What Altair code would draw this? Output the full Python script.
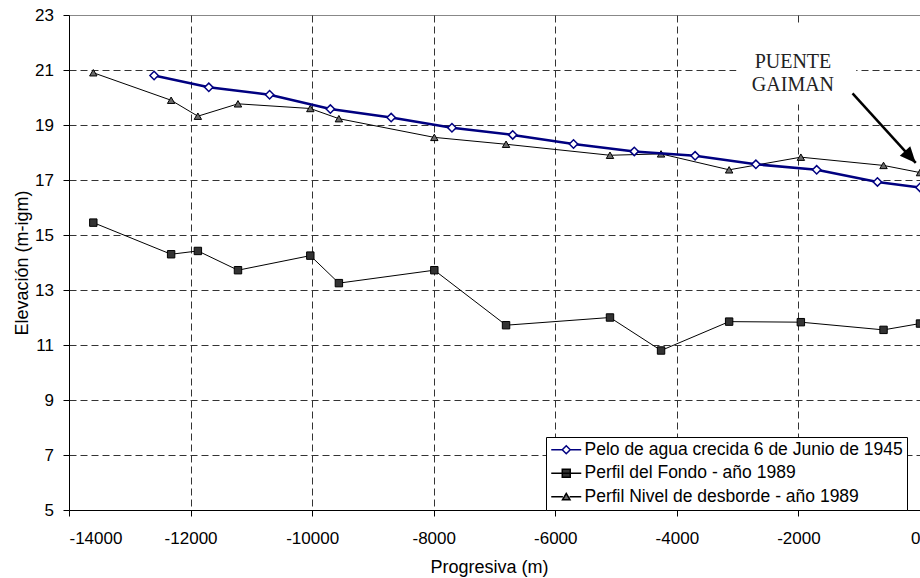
import altair as alt
import pandas as pd

# Progresiva (m) y elevación (m-igm) de cada perfil
agua_x = [-12600, -11700, -10700, -9700, -8700, -7700, -6700, -5700, -4700, -3700, -2700, -1700, -700, 0]
agua_y = [20.8, 20.37, 20.1, 19.58, 19.27, 18.9, 18.64, 18.31, 18.04, 17.88, 17.57, 17.37, 16.93, 16.73]

perfil_x = [-13600, -12320, -11880, -11220, -10030, -9560, -7990, -6810, -5100, -4260, -3140, -1960, -600, 0]
fondo_y = [15.45, 14.3, 14.42, 13.72, 14.25, 13.25, 13.72, 11.72, 12.0, 10.8, 11.85, 11.83, 11.55, 11.78]
desborde_y = [20.9, 19.9, 19.32, 19.77, 19.6, 19.23, 18.55, 18.3, 17.9, 17.95, 17.37, 17.83, 17.53, 17.27]

series = [
    "Pelo de agua crecida 6 de Junio de 1945",
    "Perfil del Fondo - año 1989",
    "Perfil Nivel de desborde - año 1989",
]

x_ticks = list(range(-14000, 1, 2000))
y_ticks = list(range(5, 24, 2))

# Puente Gaiman: rótulo, fondo blanco del rótulo y flecha
rotulo = ["PUENTE", "GAIMAN"]
rotulo_x = [-2090]
rotulo_y = [21.07]
caja_x = [-3020, -1050]
caja_y = [22.6, 19.75]
flecha_x = [-1110, -70]
flecha_y = [20.15, 17.62]

FONT = "Liberation Sans"
AZUL = "#000080"

agua = pd.DataFrame({"x": agua_x, "y": agua_y})
fondo = pd.DataFrame({"x": perfil_x, "y": fondo_y})
desborde = pd.DataFrame({"x": perfil_x, "y": desborde_y})

x_enc = alt.X(
    "x:Q",
    scale=alt.Scale(domain=[-14000, 0], nice=False, zero=False),
    axis=alt.Axis(
        values=x_ticks,
        labelExpr="'' + datum.value",
        title="Progresiva (m)",
        titleX=420,
        titleY=62,
        titleAlign="center",
        titleBaseline="alphabetic",
        labelPadding=14,
        gridOpacity=alt.condition("datum.value === -14000", alt.value(0), alt.value(1)),
    ),
)
y_enc = alt.Y(
    "y:Q",
    scale=alt.Scale(domain=[5, 23], nice=False, zero=False),
    axis=alt.Axis(
        values=y_ticks,
        labelExpr="'' + datum.value",
        title="Elevación (m-igm)",
        titleX=-42,
        titleY=247.5,
        titleAngle=270,
        titleAlign="center",
        titleBaseline="alphabetic",
        labelPadding=9.5,
        gridOpacity=alt.condition("datum.value === 23 || datum.value === 5", alt.value(0), alt.value(1)),
    ),
)


def perfil(df, color, width, shape, fill, stroke, size, swidth):
    linea = alt.Chart(df).mark_line(color=color, strokeWidth=width).encode(x=x_enc, y=y_enc)
    puntos = alt.Chart(df).mark_point(
        shape=shape, filled=True, fill=fill, stroke=stroke, size=size,
        strokeWidth=swidth, opacity=1,
    ).encode(x=x_enc, y=y_enc)
    return linea + puntos


capa_fondo = perfil(fondo, "#000000", 1, "square", "#333333", "#000000", 55, 1)
capa_desborde = perfil(desborde, "#000000", 1, "triangle-up", "#6a6a6a", "#000000", 55, 1)
capa_agua = perfil(agua, AZUL, 2.5, "diamond", "#ffffff", AZUL, 70, 1.5)

# Leyenda: símbolos de línea con marcador
simbolos = [
    "M-1,0L0.47,0M1.53,0L3,0M1,-0.53L1.53,0L1,0.53L0.47,0Z",
    "M-1,0L3,0M0.47,-0.53L1.53,-0.53L1.53,0.53L0.47,0.53Z",
    "M-1,0L0.55,0M1.45,0L3,0M1,-0.45L1.5,0.4L0.5,0.4Z",
]
leyenda_df = pd.DataFrame({"serie": series, "x": [None] * 3, "y": [None] * 3})
leyenda = alt.Legend(
    orient="none",
    legendX=477,
    legendY=422,
    title=None,
    symbolSize=225,
    symbolStrokeWidth=1.5,
    labelFont=FONT,
    labelFontSize=17.5,
    labelColor="#000000",
    labelOffset=17,
    labelLimit=0,
    fillColor="#ffffff",
    strokeColor="#000000",
    padding=4,
    rowPadding=4.5,
    cornerRadius=0,
)
capa_leyenda = alt.Chart(leyenda_df).mark_point(filled=True, size=225, opacity=1).encode(
    x=x_enc,
    y=y_enc,
    shape=alt.Shape("serie:N", scale=alt.Scale(domain=series, range=simbolos), legend=leyenda),
    fill=alt.Fill("serie:N", scale=alt.Scale(domain=series, range=["#ffffff", "#333333", "#6a6a6a"]), legend=leyenda),
    stroke=alt.Stroke("serie:N", scale=alt.Scale(domain=series, range=[AZUL, "#000000", "#000000"]), legend=leyenda),
)

caja = alt.Chart(pd.DataFrame({"x": [caja_x[0]], "x2": [caja_x[1]], "y": [caja_y[0]], "y2": [caja_y[1]]})).mark_rect(
    color="#ffffff"
).encode(x=x_enc, x2="x2", y=y_enc, y2="y2")

texto = alt.Chart(pd.DataFrame({"x": rotulo_x, "y": rotulo_y, "t": [rotulo]})).mark_text(
    font="Liberation Serif", fontSize=20, lineHeight=23, color="#222222",
    align="center", baseline="alphabetic",
).encode(x=x_enc, y=y_enc, text="t")

flecha_linea = alt.Chart(pd.DataFrame({"x": [flecha_x[0]], "x2": [flecha_x[1]], "y": [flecha_y[0]], "y2": [flecha_y[1]]})).mark_rule(
    color="#000000", strokeWidth=2.5
).encode(x=x_enc, x2="x2", y=y_enc, y2="y2")

flecha_punta = alt.Chart(pd.DataFrame({"x": [flecha_x[1]], "y": [flecha_y[1]]})).mark_point(
    shape="M0,0L0.44,1L-0.44,1Z", size=1024, filled=True, color="#000000", opacity=1, angle=138,
).encode(x=x_enc, y=y_enc)

chart = alt.layer(
    capa_fondo, capa_desborde, capa_agua, caja, texto, flecha_linea, flecha_punta, capa_leyenda
).properties(
    width=851,
    height=495,
    background="#ffffff",
    autosize=alt.AutoSizeParams(type="none"),
    padding={"left": 69, "top": 15, "right": 0, "bottom": 68},
).configure_view(
    stroke="#888888", strokeWidth=1
).configure_axis(
    labelFont=FONT,
    labelFontSize=17,
    labelColor="#000000",
    titleFont=FONT,
    titleFontSize=18,
    titleFontWeight="normal",
    titleColor="#000000",
    domainColor="#000000",
    domainWidth=1,
    tickColor="#000000",
    tickSize=6,
    tickWidth=1,
    gridColor="#333333",
    gridDash=[7, 4],
    gridWidth=1,
)

chart.save("out.html", embed_options={"renderer": "svg", "actions": False})
